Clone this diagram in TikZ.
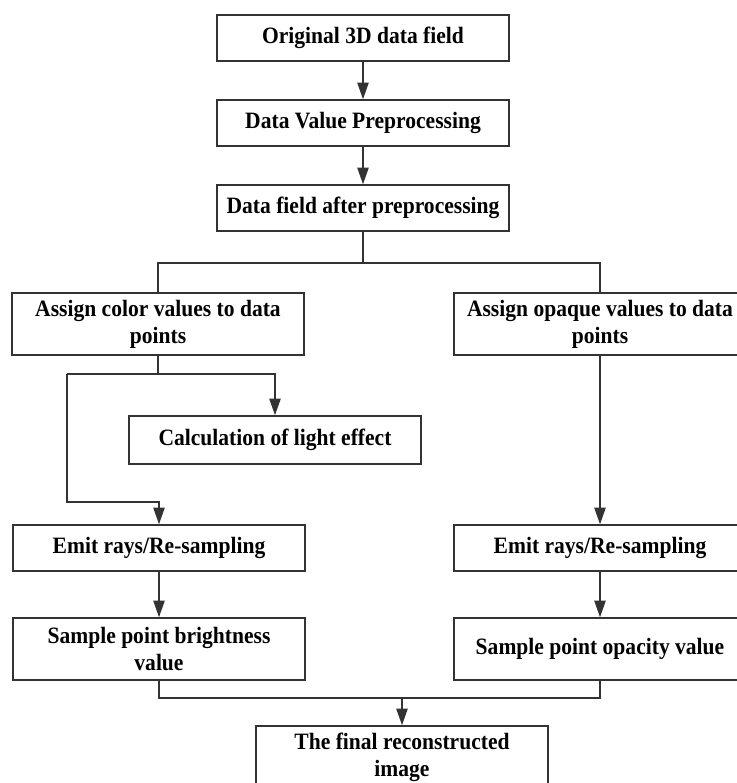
\documentclass[tikz,border=0pt]{standalone}
\usepackage{fontspec}
\setmainfont{Liberation Serif}[FakeStretch=0.92]
\usetikzlibrary{arrows.meta,positioning}

\begin{document}
\begin{tikzpicture}[x=0.3mm,y=-0.3mm, font={\bfseries\fontsize{20}{23}\selectfont},
  box/.style={draw=black!80, line width=0.45mm, align=center, minimum width=87.6mm, minimum height=13.8mm, inner sep=0pt},
  tallbox/.style={box, minimum height=18.6mm},
  link/.style={draw=black!80, line width=0.45mm},
  arr/.style={link, -{Triangle[length=5mm,width=3.4mm]}}]
  \useasboundingbox (0,0) rectangle (736,783);

  % Main column
  \node[box] (orig) at (363,38) {Original 3D data field};
  \node[box] (prep) at (363,123) {Data Value Preprocessing};
  \node[box] (after) at (363,208) {Data field after preprocessing};

  % Two branches
  \node[tallbox] (colr) at (158,324) {Assign color values to data\\points};
  \node[tallbox] (opaq) at (600,324) {Assign opaque values to data\\points};
  \node[box, minimum height=14.4mm] (light) at (275,440) {Calculation of light effect};
  \node[box] (emitL) at (159,548) {Emit rays/Re-sampling};
  \node[box] (emitR) at (600,548) {Emit rays/Re-sampling};
  \node[tallbox] (bright) at (159,649) {Sample point brightness\\value};
  \node[tallbox] (opac) at (600,649) {Sample point opacity value};
  \node[tallbox] (final) at (402,757) {The final reconstructed\\image};

  % Bend points
  \coordinate (split) at (363,263);
  \coordinate (fork) at (158,374);
  \coordinate (bend) at (67,374);
  \coordinate (bend2) at (67,502);
  \coordinate (join) at (402,698);

  % Connectors
  \draw[arr] (orig) -- (prep);
  \draw[arr] (prep) -- (after);
  \draw[link] (after) -- (split);
  \draw[link] (colr.north) |- (split) -| (opaq.north);
  \draw[link] (colr.south) -- (fork);
  \draw[arr] (bend) -| (light.north);
  \draw[arr] (bend) -- (bend2) -| (emitL.north);
  \draw[arr] (opaq) -- (emitR);
  \draw[arr] (emitL) -- (bright);
  \draw[arr] (emitR) -- (opac);
  \draw[link] (bright.south) |- (join) -| (opac.south);
  \draw[arr] (join) -- (final);
\end{tikzpicture}
\end{document}
